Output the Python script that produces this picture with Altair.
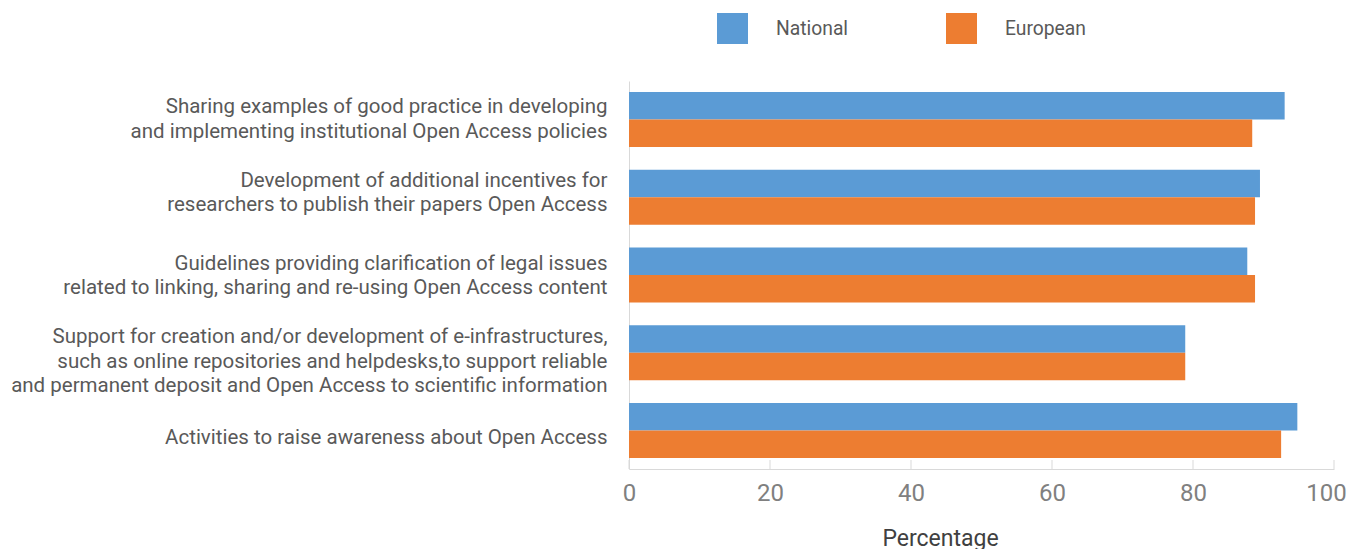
import altair as alt
import pandas as pd

categories = [
    "Sharing examples of good practice in developing\nand implementing institutional Open Access policies",
    "Development of additional incentives for\nresearchers to publish their papers Open Access",
    "Guidelines providing clarification of legal issues\nrelated to linking, sharing and re-using Open Access content",
    "Support for creation and/or development of e-infrastructures,\nsuch as online repositories and helpdesks,to support reliable\nand permanent deposit and Open Access to scientific information",
    "Activities to raise awareness about Open Access",
]
national = [93.0, 89.5, 87.7, 78.9, 94.8]
european = [88.4, 88.8, 88.8, 78.9, 92.5]
series = ["National", "European"]
colors = ["#5B9BD5", "#ED7D31"]
tick_values = [0, 20, 40, 60, 80, 100]

rows = []
for c, n, e in zip(categories, national, european):
    rows.append({"category": c, "series": "National", "value": n})
    rows.append({"category": c, "series": "European", "value": e})
df = pd.DataFrame(rows)
ticks_df = pd.DataFrame({"t": tick_values})

W, H = 705, 388
FONT = "Roboto"
LH = 24.5

label_offset = {
    "condition": [
        {"test": "indexof(datum.label, 'Sharing') == 0", "value": -12.25},
        {"test": "indexof(datum.label, 'Development') == 0", "value": -16.25},
        {"test": "indexof(datum.label, 'Guidelines') == 0", "value": -11.25},
        {"test": "indexof(datum.label, 'Support') == 0", "value": -15.5},
    ],
    "value": 7.5,
}

x_label_offset = {"condition": {"test": "datum.value == 100", "value": -8}, "value": 0}

bars = alt.Chart(df).mark_bar().encode(
    y=alt.Y("category:N", sort=categories, title=None,
            scale=alt.Scale(paddingInner=0.29, paddingOuter=0.14),
            axis=alt.Axis(labelExpr="split(datum.label, '\\n')", labelFontSize=20.5,
                          labelColor="#595959", labelFont=FONT, labelLineHeight=LH,
                          labelPadding=22, ticks=False, domainColor="#d9d9d9",
                          labelLimit=1000, labelAlign="right", labelOffset=label_offset)),
    yOffset=alt.YOffset("series:N", sort=series),
    x=alt.X("value:Q", title="Percentage",
            scale=alt.Scale(domain=[0, 100], nice=False),
            axis=alt.Axis(values=tick_values, grid=False, ticks=False, labelFontSize=24,
                          labelColor="#808080", labelFont=FONT, labelPadding=12,
                          labelFlush=False, labelOffset=x_label_offset,
                          domainColor="#d9d9d9", titleFont=FONT, titleFontSize=23,
                          titleColor="#404040", titleFontWeight="normal", titlePadding=22,
                          titleX=311, titleAlign="center")),
    color=alt.Color("series:N", sort=series,
                    scale=alt.Scale(domain=series, range=colors),
                    legend=alt.Legend(title=None, orient="none", legendX=88, legendY=-68,
                                      direction="horizontal", symbolType="square",
                                      symbolSize=961, symbolStrokeWidth=0, labelFontSize=19.3,
                                      labelFont=FONT, labelColor="#595959", labelOffset=28,
                                      columnPadding=97, symbolOpacity=1)),
)

tick_marks = alt.Chart(ticks_df).mark_rule(color="#d9d9d9", strokeWidth=1).encode(
    x=alt.X("t:Q"),
    y=alt.value(H - 9),
    y2=alt.value(H),
)

chart = alt.layer(bars, tick_marks).properties(
    width=W, height=H,
    padding={"left": 2, "top": 5, "right": 0, "bottom": 0},
).configure_view(stroke=None)

chart.save("out.html", embed_options={"renderer": "svg", "actions": False})
